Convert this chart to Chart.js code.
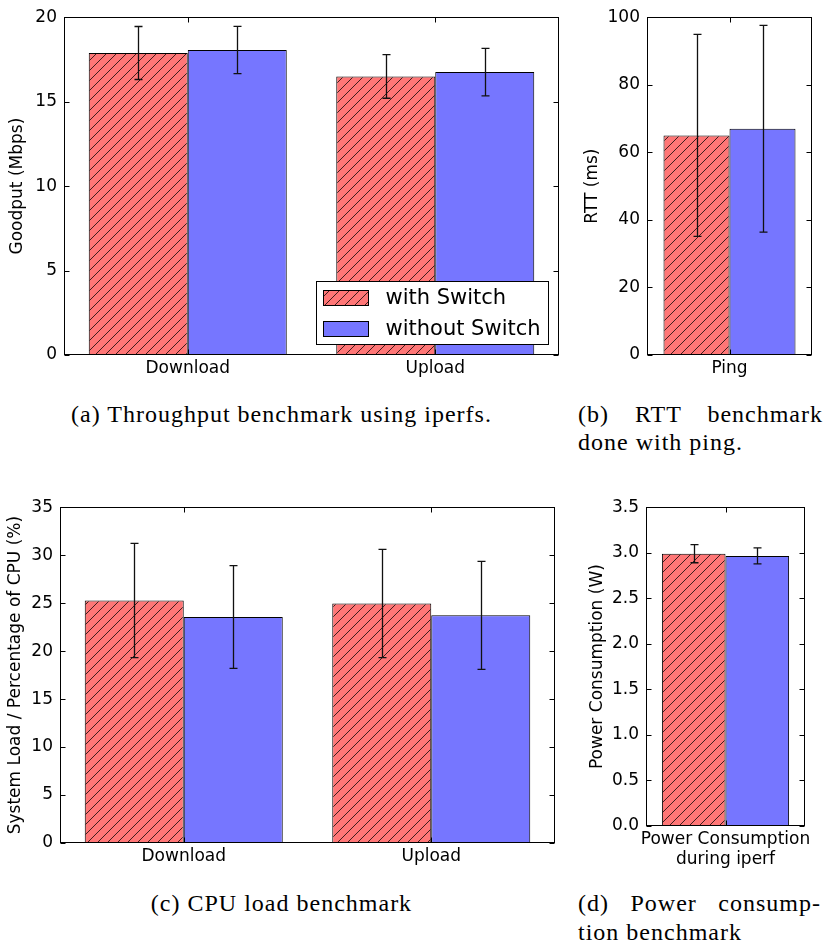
<!DOCTYPE html>
<html>
<head>
<meta charset="utf-8">
<script src="https://cdn.jsdelivr.net/npm/chart.js@4.4.1/dist/chart.umd.min.js"></script>
<style>
  body { margin: 0; background: #fff; width: 826px; height: 945px; position: relative; overflow: hidden; }
  canvas { position: absolute; }
  .cap { position: absolute; font-family: 'Liberation Serif', serif; font-size: 24px; line-height: 28px; color: #000; white-space: nowrap; letter-spacing: 1px; }
  .center { text-align: center; }
  .just { text-align: justify; text-align-last: justify; }
</style>
</head>
<body>
<canvas id="goodput" width="565" height="390" style="left:0;top:0"></canvas>
<canvas id="rtt" width="261" height="390" style="left:565px;top:0"></canvas>
<canvas id="cpu" width="565" height="385" style="left:0;top:490px"></canvas>
<canvas id="power" width="261" height="385" style="left:565px;top:490px"></canvas>

<div class="cap center" style="left:0;top:400px;width:563px">(a) Throughput benchmark using iperfs.</div>
<div class="cap just" style="left:578px;top:400px;width:245px">(b) RTT benchmark</div>
<div class="cap" style="left:578px;top:428px">done with ping.</div>
<div class="cap center" style="left:0;top:889px;width:563px">(c) CPU load benchmark</div>
<div class="cap just" style="left:578px;top:889px;width:243px">(d) Power consump-</div>
<div class="cap" style="left:578px;top:918px">tion benchmark</div>

<script>
// series
const seriesNames = ['with Switch', 'without Switch'];

// (a) goodput, Mbps
const transferLabels = ['Download', 'Upload'];
const goodputWith = [17.88, 16.49];
const goodputWithErr = [1.57, 1.29];
const goodputWithout = [18.06, 16.75];
const goodputWithoutErr = [1.40, 1.41];

// (b) round trip time, ms
const rttLabels = ['Ping'];
const rttWith = [65.0];
const rttWithErr = [29.9];
const rttWithout = [67.0];
const rttWithoutErr = [30.6];

// (c) cpu load, %
const cpuWith = [25.27, 24.97];
const cpuWithErr = [5.95, 5.64];
const cpuWithout = [23.56, 23.73];
const cpuWithoutErr = [5.36, 5.63];

// (d) power, W
const powerLabels = [['Power Consumption', 'during iperf']];
const powerWith = [2.99];
const powerWithErr = [0.10];
const powerWithout = [2.965];
const powerWithoutErr = [0.088];

Chart.defaults.font.family = "'DejaVu Sans', sans-serif";
Chart.defaults.font.size = 17;
Chart.defaults.color = '#000';

const RED = 'rgb(255,118,118)';
const BLUE = 'rgb(118,118,255)';

function hatch(bg) {
  const s = 10;
  const c = document.createElement('canvas');
  c.width = c.height = s;
  const g = c.getContext('2d');
  g.fillStyle = bg;
  g.fillRect(0, 0, s, s);
  g.strokeStyle = 'rgba(0,0,0,0.75)';
  g.lineWidth = 1;
  g.beginPath();
  g.moveTo(0, s); g.lineTo(s, 0);
  g.moveTo(-s / 2, s / 2); g.lineTo(s / 2, -s / 2);
  g.moveTo(s / 2, s * 1.5); g.lineTo(s * 1.5, s / 2);
  g.stroke();
  return g.createPattern(c, 'repeat');
}
const redHatch = hatch(RED);

// axes box with inward ticks on all four sides
const frame = {
  id: 'frame',
  afterDatasetsDraw(chart) {
    const { ctx, chartArea: a, scales: { x, y } } = chart;
    const L = Math.round(a.left) + 0.5, R = Math.round(a.right) - 0.5;
    const T = Math.round(a.top) + 0.5, B = Math.round(a.bottom) - 0.5;
    ctx.save();
    ctx.strokeStyle = '#000';
    ctx.lineWidth = 1;
    ctx.beginPath();
    y.ticks.forEach(t => {
      const py = Math.round(y.getPixelForValue(t.value)) + 0.5;
      ctx.moveTo(L, py); ctx.lineTo(L + 5, py);
      ctx.moveTo(R, py); ctx.lineTo(R - 5, py);
    });
    x.ticks.forEach((t, i) => {
      const px = Math.round(x.getPixelForTick(i)) + 0.5;
      ctx.moveTo(px, T); ctx.lineTo(px, T + 5);
      ctx.moveTo(px, B); ctx.lineTo(px, B - 5);
    });
    ctx.stroke();
    ctx.strokeRect(L, T, R - L, B - T);
    ctx.restore();
  }
};

const errorBars = {
  id: 'errorBars',
  afterDatasetsDraw(chart) {
    const { ctx, scales: { y } } = chart;
    ctx.save();
    ctx.strokeStyle = '#111';
    ctx.lineWidth = 1.3;
    chart.data.datasets.forEach((ds, di) => {
      chart.getDatasetMeta(di).data.forEach((bar, i) => {
        const v = ds.data[i], e = ds.errors[i];
        const top = y.getPixelForValue(v + e), bot = y.getPixelForValue(v - e);
        const cx = Math.round(bar.x) + 0.5;
        ctx.beginPath();
        ctx.moveTo(cx, top); ctx.lineTo(cx, bot);
        ctx.moveTo(cx - 4, top); ctx.lineTo(cx + 4, top);
        ctx.moveTo(cx - 4, bot); ctx.lineTo(cx + 4, bot);
        ctx.stroke();
      });
    });
    ctx.restore();
  }
};

// legend box in the lower right corner of the axes
const benchLegend = {
  id: 'benchLegend',
  afterDraw(chart, args, opts) {
    if (!opts.show) return;
    const { ctx, chartArea: a } = chart;
    const w = 232, h = 63;
    const x0 = Math.round(a.right - 11 - w) + 0.5, y0 = Math.round(a.bottom - 11 - h) + 0.5;
    ctx.save();
    ctx.fillStyle = '#fff';
    ctx.strokeStyle = '#000';
    ctx.lineWidth = 1;
    ctx.fillRect(x0, y0, w, h);
    ctx.strokeRect(x0, y0, w, h);
    ctx.font = "21px 'DejaVu Sans'";
    ctx.textBaseline = 'middle';
    chart.data.datasets.forEach((ds, i) => {
      const py = y0 + 9 + i * 31;
      ctx.fillStyle = ds.backgroundColor;
      ctx.fillRect(x0 + 7, py, 45, 15);
      ctx.strokeRect(x0 + 7, py, 45, 15);
      ctx.fillStyle = '#000';
      ctx.fillText(ds.label, x0 + 69, py + 8);
    });
    ctx.restore();
  }
};

function benchChart(id, o) {
  return new Chart(document.getElementById(id), {
    type: 'bar',
    data: {
      labels: o.labels,
      datasets: [
        { label: seriesNames[0], data: o.withVals, errors: o.withErr, backgroundColor: redHatch,
          borderColor: '#000', borderWidth: 1, categoryPercentage: 0.8, barPercentage: 1.0 },
        { label: seriesNames[1], data: o.withoutVals, errors: o.withoutErr, backgroundColor: BLUE,
          borderColor: '#000', borderWidth: 1, categoryPercentage: 0.8, barPercentage: 1.0 }
      ]
    },
    options: {
      responsive: false,
      animation: false,
      events: [],
      layout: { padding: { top: o.padTop, right: o.padRight, left: 0, bottom: 0 } },
      scales: {
        x: {
          grid: { display: false, drawTicks: false },
          border: { display: false },
          ticks: { padding: 3, maxRotation: 0, minRotation: 0, autoSkip: false },
          afterFit: s => { s.height = o.xHeight; }
        },
        y: {
          min: o.min, max: o.max,
          grid: { display: false, drawTicks: false },
          border: { display: false },
          ticks: { stepSize: o.step, padding: 7, callback: o.fmt || (v => v) },
          title: { display: true, text: o.title, padding: { top: o.titlePad, bottom: 0 } },
          afterFit: s => { s.width = o.yWidth; }
        }
      },
      plugins: {
        legend: { display: false },
        tooltip: { enabled: false },
        benchLegend: { show: !!o.legend }
      }
    },
    plugins: [frame, errorBars, benchLegend]
  });
}

benchChart('goodput', {
  labels: transferLabels,
  withVals: goodputWith, withErr: goodputWithErr,
  withoutVals: goodputWithout, withoutErr: goodputWithoutErr,
  min: 0, max: 20, step: 5, title: 'Goodput (Mbps)', titlePad: 7.8,
  yWidth: 64, padTop: 15, padRight: 6, xHeight: 35, legend: true
});

benchChart('rtt', {
  labels: rttLabels,
  withVals: rttWith, withErr: rttWithErr,
  withoutVals: rttWithout, withoutErr: rttWithoutErr,
  min: 0, max: 100, step: 20, title: 'RTT (ms)', titlePad: 17.8,
  yWidth: 82, padTop: 15, padRight: 14, xHeight: 35
});

benchChart('cpu', {
  labels: transferLabels,
  withVals: cpuWith, withErr: cpuWithErr,
  withoutVals: cpuWithout, withoutErr: cpuWithoutErr,
  min: 0, max: 35, step: 5, title: 'System Load / Percentage of CPU (%)', titlePad: 5.8,
  yWidth: 60, padTop: 13, padRight: 10, xHeight: 32
});

benchChart('power', {
  labels: powerLabels,
  withVals: powerWith, withErr: powerWithErr,
  withoutVals: powerWithout, withoutErr: powerWithoutErr,
  min: 0, max: 3.5, step: 0.5, title: 'Power Consumption (W)', titlePad: 22.8,
  fmt: v => v.toFixed(1),
  yWidth: 81, padTop: 12, padRight: 21, xHeight: 49
});
</script>
</body>
</html>
